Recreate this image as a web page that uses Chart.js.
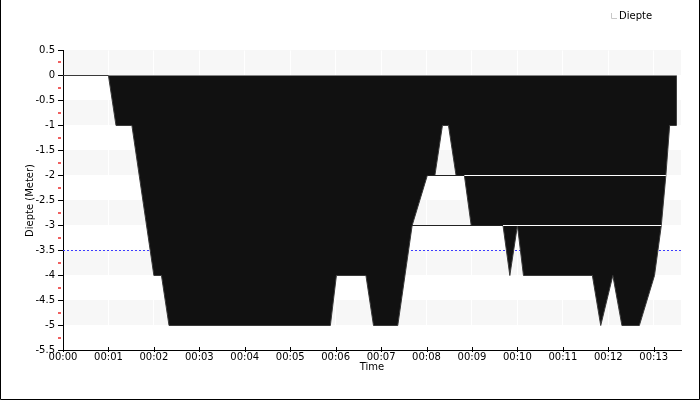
<!DOCTYPE html>
<html>
<head>
<meta charset="utf-8">
<script src="https://cdn.jsdelivr.net/npm/chart.js@4/dist/chart.umd.min.js"></script>
<style>
  html, body { margin: 0; padding: 0; background: #ffffff; }
  #wrap { width: 700px; height: 400px; position: relative; }
</style>
</head>
<body>
<div id="wrap"><canvas id="c" width="700" height="400"></canvas></div>
<script>
// ---- data (time in seconds, depth in metres) ----
const timeSec  = [0, 60, 70, 91, 120, 130, 140, 353, 361, 400, 410, 442, 461, 481, 491, 501, 509, 519, 530, 539, 581, 590, 600, 608, 699, 710, 726, 738, 761, 781, 790, 796, 801, 810, 810];
const depthM   = [0, 0, -1, -1, -4, -4, -5, -5, -4, -4, -5, -5, -3, -2, -2, -1, -1, -2, -2, -3, -3, -4, -3, -4, -4, -5, -4, -5, -5, -4, -3, -2, -1, -1, 0];
// thin seam lines visible in the profile (dark over white, white over black)
const seam3Sec = [461, 581, 790];
const seam3Depth = -3;
const seam2Sec = [481, 530, 796];
const seam2Depth = -2;
// dashed reference depth
const limitSec = [0, 816];
const limitDepth = -3.5;
// axes
const xMaxSec = 816;
const yMin = -5.5, yMax = 0.5, yStep = 0.5;
const seriesName = 'Diepte';
const xTitle = 'Time';
const yTitle = 'Diepte (Meter)';

const FONT = "'DejaVu Sans', sans-serif";
const pad2 = n => (n < 10 ? '0' : '') + n;

const profile = timeSec.map((t, i) => ({x: t, y: depthM[i]}));
const seam3 = seam3Sec.map(t => ({x: t, y: seam3Depth}));
const seam2 = seam2Sec.map(t => ({x: t, y: seam2Depth}));
const limit = limitSec.map(t => ({x: t, y: limitDepth}));

const decor = {
  id: 'decor',
  beforeDraw(chart) {
    const {ctx, chartArea: a, scales: {y}} = chart;
    ctx.save();
    ctx.fillStyle = '#f7f7f7';
    y.ticks.forEach(tk => {
      const v = tk.value;
      if (Math.abs(Math.round(v * 2)) % 2 === 1 && v - yStep >= yMin - 1e-9) {
        const top = Math.floor(y.getPixelForValue(v));
        const bot = Math.floor(y.getPixelForValue(v - yStep));
        ctx.fillRect(Math.round(a.left), top, Math.round(a.right) - Math.round(a.left), bot - top);
      }
    });
    ctx.restore();
  },
  afterDraw(chart) {
    const {ctx, chartArea: a, scales: {x, y}} = chart;
    ctx.save();
    // red minor ticks on y axis
    ctx.fillStyle = '#f06060';
    for (let v = yMax - yStep / 2; v > yMin; v -= yStep) {
      const py = Math.floor(y.getPixelForValue(v));
      ctx.fillRect(Math.round(a.left) - 5, py - 1, 3, 2);
    }
    // x major ticks crossing the axis
    ctx.fillStyle = '#000';
    x.ticks.forEach(tk => {
      const px = Math.round(x.getPixelForValue(tk.value));
      ctx.fillRect(px, Math.floor(a.bottom) - 3, 1, 5);
    });
    // legend
    ctx.strokeStyle = '#c8c8c8';
    ctx.lineWidth = 1;
    ctx.beginPath();
    ctx.moveTo(611.5, 13);
    ctx.lineTo(611.5, 18.5);
    ctx.lineTo(617, 18.5);
    ctx.stroke();
    ctx.fillStyle = '#000';
    ctx.font = '10px ' + FONT;
    ctx.textBaseline = 'alphabetic';
    ctx.textAlign = 'left';
    ctx.fillText(seriesName, 619, 18.5);
    // outer frame
    ctx.strokeStyle = '#000';
    ctx.beginPath();
    ctx.moveTo(0.5, 0);
    ctx.lineTo(0.5, 399.5);
    ctx.lineTo(699.5, 399.5);
    ctx.lineTo(699.5, 0);
    ctx.stroke();
    ctx.restore();
  }
};

Chart.defaults.font.family = FONT;
Chart.defaults.font.size = 10;
Chart.defaults.color = '#000';

new Chart(document.getElementById('c'), {
  type: 'line',
  data: {
    datasets: [
      {
        label: seriesName,
        data: profile,
        borderColor: '#3a3a3a',
        borderWidth: 1,
        backgroundColor: '#111111',
        fill: 'origin',
        pointRadius: 0,
        tension: 0,
        order: 2
      },
      {
        label: 'seam3',
        data: seam3,
        borderWidth: 1,
        borderColor: '#ffffff',
        segment: { borderColor: c => (c.p0DataIndex === 0 ? '#222222' : '#ffffff') },
        pointRadius: 0,
        fill: false,
        order: 1
      },
      {
        label: 'seam2',
        data: seam2,
        borderWidth: 1,
        borderColor: '#ffffff',
        segment: { borderColor: c => (c.p0DataIndex === 0 ? '#222222' : '#ffffff') },
        pointRadius: 0,
        fill: false,
        order: 1
      },
      {
        label: 'limit',
        data: limit,
        borderWidth: 1,
        borderColor: '#3c3cff',
        borderDash: [2, 2],
        pointRadius: 0,
        fill: false,
        order: 3
      }
    ]
  },
  options: {
    responsive: false,
    animation: false,
    events: [],
    layout: { padding: { left: 0, top: 50.5, right: 19, bottom: 0 } },
    plugins: { legend: { display: false }, tooltip: { enabled: false } },
    scales: {
      x: {
        type: 'linear',
        min: 0,
        max: xMaxSec,
        afterFit: s => { s.height = 49.5; },
        ticks: {
          stepSize: 60,
          includeBounds: false,
          autoSkip: false,
          maxRotation: 0,
          padding: 1,
          callback: v => '00:' + pad2(Math.round(v / 60))
        },
        grid: { color: '#ffffff', drawTicks: false, drawOnChartArea: true },
        border: { color: '#000', width: 1 },
        title: { display: true, text: xTitle, padding: { top: 0, bottom: 27 }, font: { size: 10 } }
      },
      y: {
        type: 'linear',
        min: yMin,
        max: yMax,
        afterFit: s => { s.width = 63; },
        ticks: {
          stepSize: yStep,
          padding: 3,
          callback: v => String(v)
        },
        grid: { drawOnChartArea: false, drawTicks: true, tickLength: 5, tickColor: '#000' },
        border: { color: '#000', width: 1 },
        title: { display: true, text: yTitle, padding: { top: 24, bottom: 0 }, font: { size: 10 } }
      }
    }
  },
  plugins: [decor]
});
</script>
</body>
</html>
